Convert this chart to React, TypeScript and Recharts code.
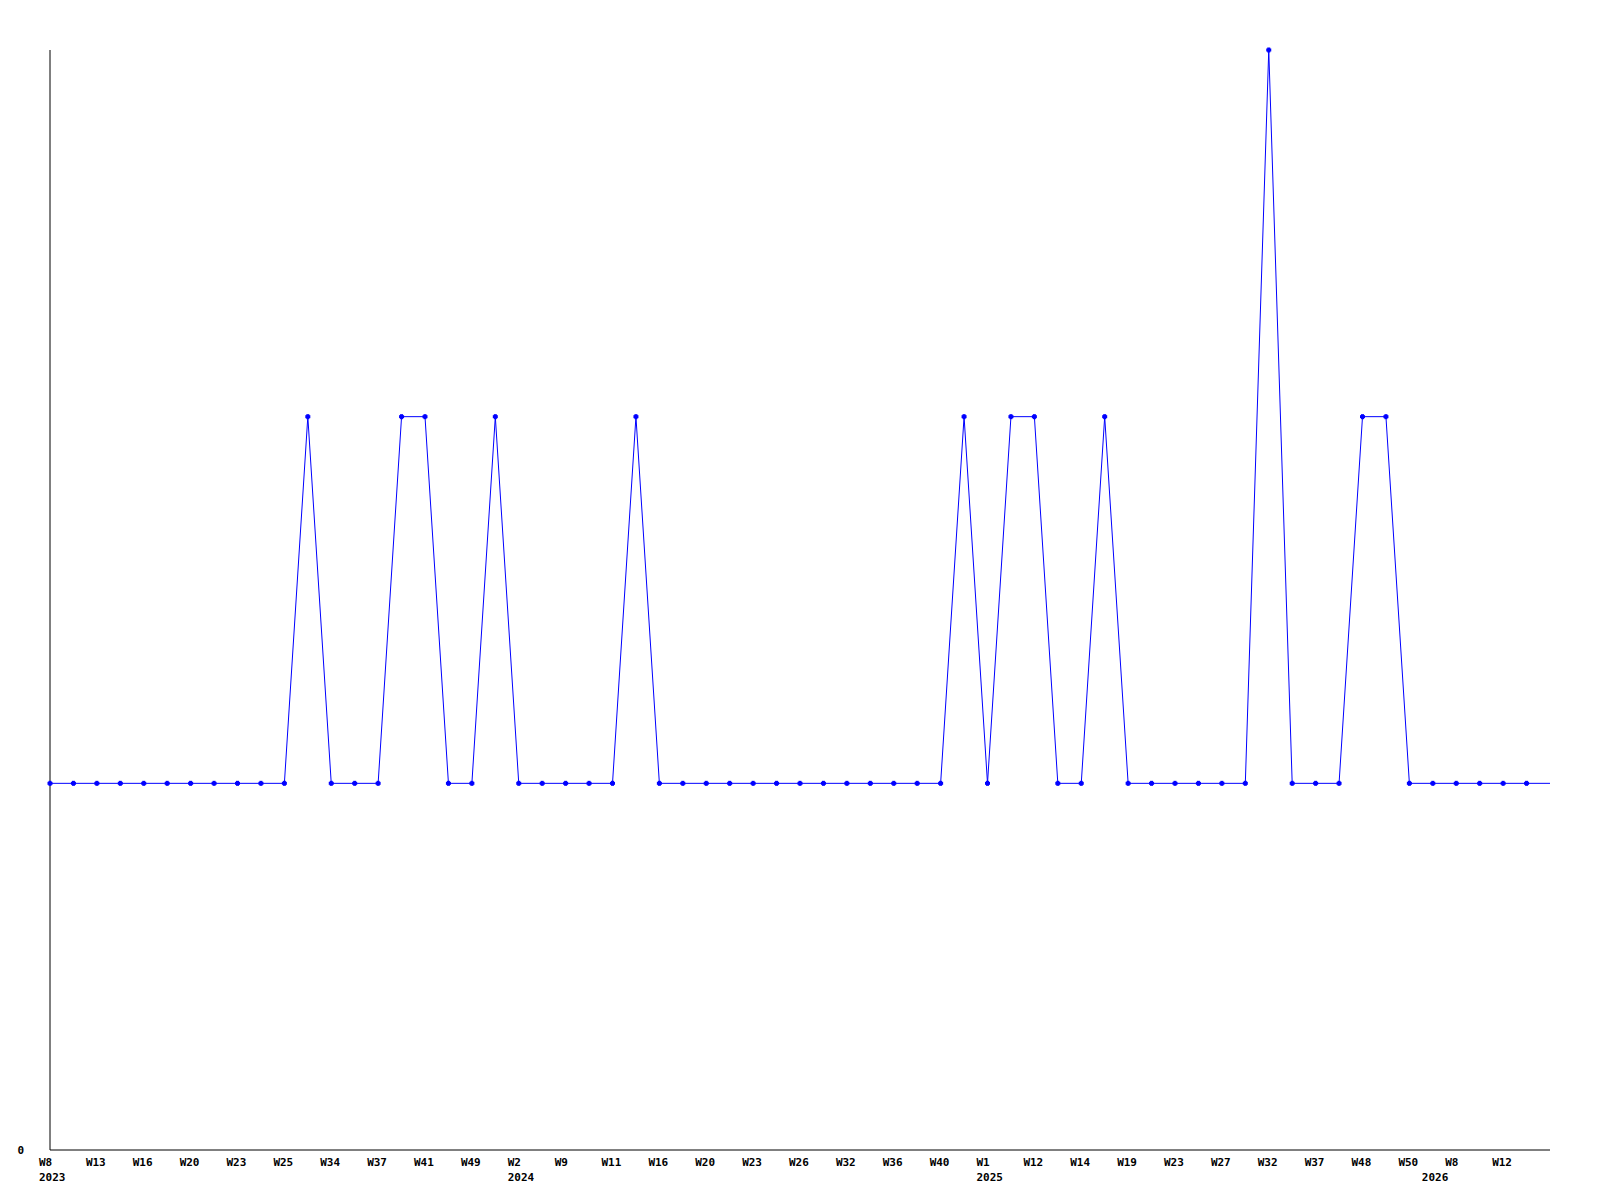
import { Line, LineChart, XAxis, YAxis } from "recharts";

// one value per sample, left to right; the last one sits on the right edge
const counts = [
  1, 1, 1, 1, 1, 1, 1, 1, 1, 1, 1, 2, 1, 1, 1, 2, 2, 1, 1, 2,
  1, 1, 1, 1, 1, 2, 1, 1, 1, 1, 1, 1, 1, 1, 1, 1, 1, 1, 1, 2,
  1, 2, 2, 1, 1, 2, 1, 1, 1, 1, 1, 1, 3, 1, 1, 1, 2, 2, 1, 1,
  1, 1, 1, 1, 1,
];

// week label on every second sample
const weekLabels = [
  "W8", "W13", "W16", "W20", "W23", "W25", "W34", "W37", "W41", "W49",
  "W2", "W9", "W11", "W16", "W20", "W23", "W26", "W32", "W36", "W40",
  "W1", "W12", "W14", "W19", "W23", "W27", "W32", "W37", "W48", "W50",
  "W8", "W12",
];

const yearTicks = [0, 20, 40, 59];
const years = ["2023", "2024", "2025", "2026"];

const data = counts.map((v, i) => ({ i, v }));

const xTicks = Array.from(
  new Set([...weekLabels.map((_, k) => k * 2), ...yearTicks])
).sort((a, b) => a - b);

const BLUE = "#0000ff";
const FONT = "'DejaVu Sans Mono', 'Liberation Mono', monospace";

function WeekTick(props: any) {
  const { x, y, payload } = props;
  const idx = payload.value as number;
  const week = idx % 2 === 0 ? weekLabels[idx / 2] : undefined;
  const yi = yearTicks.indexOf(idx);
  return (
    <g fontFamily={FONT} fontSize={11} fontWeight="bold" fill="#000">
      {week && (
        <text x={x - 11} y={y + 16} textAnchor="start">
          {week}
        </text>
      )}
      {yi >= 0 && (
        <text x={x - 11} y={y + 31} textAnchor="start">
          {years[yi]}
        </text>
      )}
    </g>
  );
}

function ZeroTick(props: any) {
  const { x, y, payload } = props;
  return (
    <text
      x={x - 26}
      y={y + 4}
      textAnchor="end"
      fontFamily={FONT}
      fontSize={11}
      fontWeight="bold"
      fill="#000"
    >
      {payload.value}
    </text>
  );
}

function CrossDot(props: any) {
  const { cx, cy, index } = props;
  if (index === counts.length - 1) return <g key={index} />;
  return (
    <g key={index} fill={BLUE}>
      <rect x={cx - 2.5} y={cy - 1.5} width={5} height={3} />
      <rect x={cx - 1.5} y={cy - 2.5} width={3} height={5} />
    </g>
  );
}

export default function App() {
  return (
    <div style={{ position: "absolute", left: 0, top: 0, width: 1600, height: 1200, background: "#fff" }}>
      <LineChart
        width={1600}
        height={1200}
        data={data}
        margin={{ top: 50, right: 50, bottom: 0, left: 0 }}
      >
        <XAxis
          dataKey="i"
          type="number"
          domain={[0, counts.length - 1]}
          ticks={xTicks}
          interval={0}
          height={50}
          tickLine={false}
          tickSize={0}
          tickMargin={0}
          axisLine={{ stroke: "#000", strokeWidth: 1 }}
          tick={<WeekTick />}
        />
        <YAxis
          domain={[0, 3]}
          ticks={[0]}
          width={50}
          tickLine={false}
          tickSize={0}
          tickMargin={0}
          axisLine={{ stroke: "#000", strokeWidth: 1 }}
          tick={<ZeroTick />}
        />
        <Line
          type="linear"
          dataKey="v"
          stroke={BLUE}
          strokeWidth={1}
          dot={<CrossDot />}
          activeDot={false}
          isAnimationActive={false}
        />
      </LineChart>
    </div>
  );
}
